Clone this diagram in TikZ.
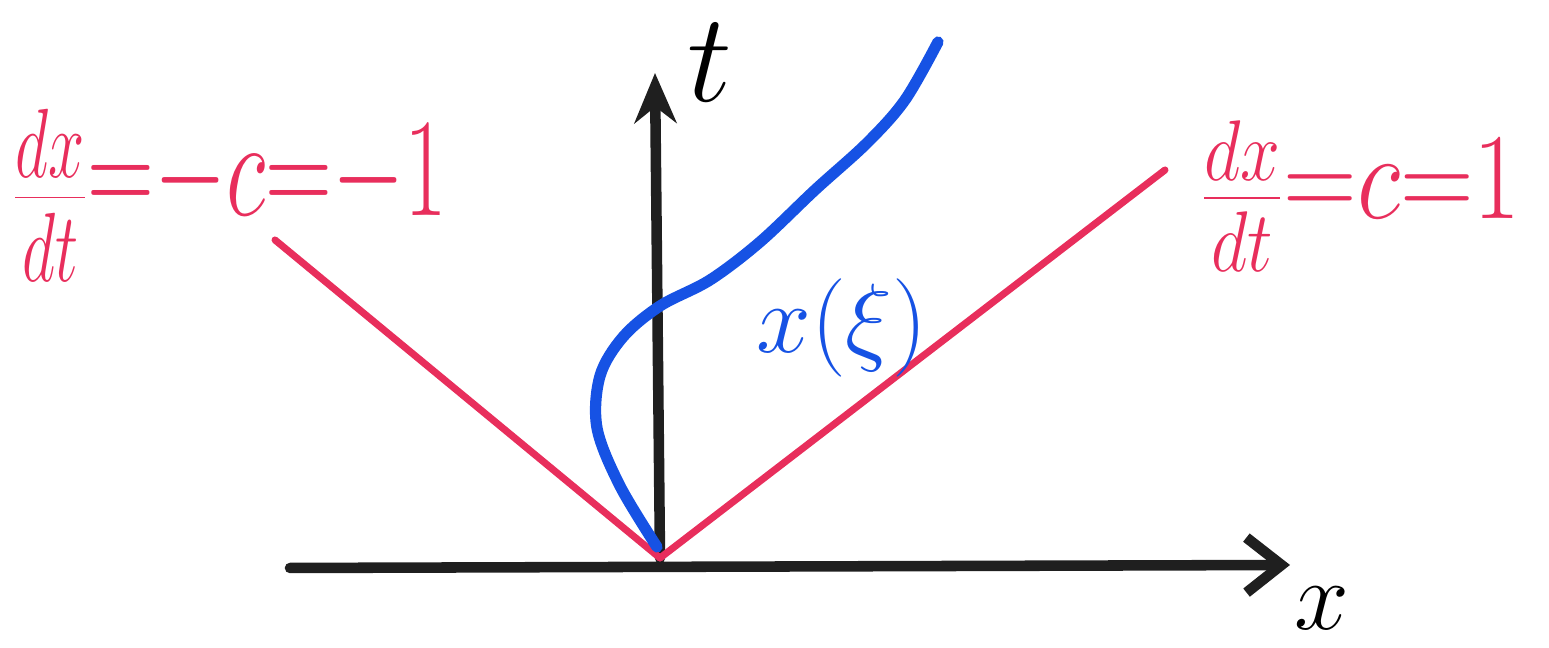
\RequirePackage{fix-cm}
\documentclass[tikz,border=0pt]{standalone}
\usepackage{graphicx}
\usetikzlibrary{arrows.meta}
\definecolor{charred}{RGB}{232,46,92}
\definecolor{pathblue}{RGB}{22,82,228}
\tikzset{
  axis/.style={line width=3pt, black!88, line cap=round},
  charline/.style={charred, line width=2pt, line cap=round},
  pathline/.style={pathblue, line width=3.2pt, line cap=round},
  bigtext/.style={font=\fontsize{28}{30}\selectfont, inner sep=0pt}
}
\newcommand{\slopelabel}[3]{\scalebox{#1}[1]{\fontsize{#2}{#2}\selectfont$#3$}}
\begin{document}
\begin{tikzpicture}
  \useasboundingbox (0,0) rectangle (15.49,6.48);
  \coordinate (O) at (6.6,0.9);
  \coordinate (xstart) at (2.9,0.8);
  \coordinate (xend) at (12.9,0.83);
  \coordinate (tend) at (6.55,5.75);
  \coordinate (lend) at (2.75,4.08);
  \coordinate (rend) at (11.65,4.78);
  \draw [axis, -{Straight Barb[length=0.35cm,width=0.55cm,line width=3pt]}] (xstart) -- (xend);
  \draw [axis, -{Stealth[length=0.5cm,width=0.42cm]}] (O) -- (tend);
  \node [bigtext, anchor=center] (xlab) at (13.22,0.4) {$x$};
  \node [bigtext, font=\fontsize{36}{38}\selectfont, anchor=center] (tlab) at (7.1,5.85) {$t$};
  \draw [charline] (O) -- (lend);
  \draw [charline] (O) -- (rend);
  \node [charred, inner sep=0pt, anchor=west] (llab) at (0.12,4.53) {\slopelabel{0.66}{40}{\frac{dx}{dt}\raisebox{5pt}{${=}{-}c{=}{-}1$}}};
  \node [charred, inner sep=0pt, anchor=west] (rlab) at (12.0,4.52) {\slopelabel{0.83}{35}{\frac{dx}{dt}\raisebox{3pt}{${=}c{=}1$}}};
  \draw [pathline] plot [smooth, tension=0.55] coordinates {(6.57,1.01) (6.2,1.62) (5.97,2.2) (6.0,2.72) (6.23,3.11) (6.6,3.42) (7.1,3.68) (7.6,4.06) (8.15,4.58) (8.67,5.05) (9.05,5.48) (9.38,6.06)};
  \node [bigtext, pathblue, anchor=center] (xilab) at (8.42,3.2) {$x(\xi)$};
\end{tikzpicture}
\end{document}
